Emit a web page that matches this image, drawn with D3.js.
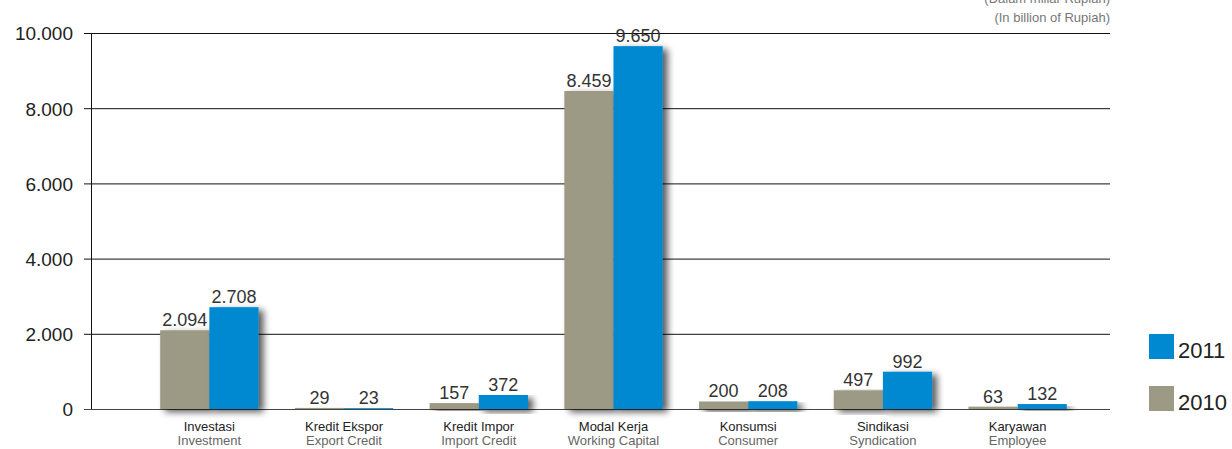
<!DOCTYPE html>
<html>
<head>
<meta charset="utf-8">
<script src="https://cdn.jsdelivr.net/npm/d3@7/dist/d3.min.js"></script>
<style>
  html, body { margin: 0; padding: 0; background: #fff; }
  svg { display: block; font-family: "Liberation Sans", Arial, sans-serif; }
</style>
</head>
<body>
<svg id="chart" width="1232" height="449"></svg>
<script>
// Credit by purpose, in billions of Rupiah
const categoriesId = ["Investasi", "Kredit Ekspor", "Kredit Impor", "Modal Kerja", "Konsumsi", "Sindikasi", "Karyawan"];
const categoriesEn = ["Investment", "Export Credit", "Import Credit", "Working Capital", "Consumer", "Syndication", "Employee"];
const values2010 = [2094, 29, 157, 8459, 200, 497, 63];
const values2011 = [2708, 23, 372, 9650, 208, 992, 132];
const years = ["2010", "2011"];
const yTicks = [0, 2000, 4000, 6000, 8000, 10000];
const colors = { "2010": "#9c9a85", "2011": "#0088d1" };

const svg = d3.select("#chart");
const fmt = v => d3.format(",")(v).replace(/,/g, ".");

const x = d3.scaleBand().domain(categoriesId).range([142, 1085]).paddingInner(0.27).paddingOuter(0.135);
const xs = d3.scaleBand().domain(years).range([0, x.bandwidth()]);
const y = d3.scaleLinear().domain([0, 10000]).range([409, 33]);

// soft shadow behind bars
const defs = svg.append("defs");
const f = defs.append("filter").attr("id", "shadow").attr("x", "-20%").attr("y", "-20%").attr("width", "150%").attr("height", "150%");
f.append("feGaussianBlur").attr("in", "SourceAlpha").attr("stdDeviation", 3.5).attr("result", "b");
f.append("feOffset").attr("in", "b").attr("dx", 5).attr("dy", 3).attr("result", "o");
f.append("feComponentTransfer").attr("in", "o").attr("result", "s")
  .append("feFuncA").attr("type", "linear").attr("slope", 0.65);
const m = f.append("feMerge");
m.append("feMergeNode").attr("in", "s");
m.append("feMergeNode").attr("in", "SourceGraphic");

// y axis with full-width grid lines
const yAxis = d3.axisLeft(y).tickValues(yTicks).tickSize(-(1110 - 91)).tickPadding(10).tickFormat(fmt);
const ga = svg.append("g").attr("transform", "translate(91,0)").call(yAxis);
ga.select(".domain").remove();
ga.selectAll(".tick line").attr("stroke", "#111").attr("stroke-width", 1).attr("x1", -7);
ga.selectAll(".tick line").filter(d => d === 0).attr("stroke", "#444");
ga.selectAll(".tick text").attr("font-size", 19).attr("fill", "#222").attr("x", -18).attr("dy", "0.36em");
svg.append("line").attr("x1", 91.5).attr("x2", 91.5).attr("y1", y(10000)).attr("y2", y(0)).attr("stroke", "#111");

// bars
const rows = categoriesId.map((c, i) => ({ c, i, v: { "2010": values2010[i], "2011": values2011[i] } }));
const groups = svg.append("g").selectAll("g").data(rows).join("g")
  .attr("transform", d => `translate(${x(d.c)},0)`);
groups.each(function(d) {
  const g = d3.select(this);
  years.forEach(yr => {
    g.append("rect")
      .attr("x", xs(yr)).attr("width", xs.bandwidth())
      .attr("y", y(d.v[yr])).attr("height", y(0) - y(d.v[yr]))
      .attr("fill", colors[yr]).attr("filter", "url(#shadow)");
  });
});
groups.each(function(d) {
  const g = d3.select(this);
  years.forEach(yr => {
    g.append("text")
      .attr("x", xs(yr) + xs.bandwidth() / 2).attr("y", y(d.v[yr]) - 4)
      .attr("text-anchor", "middle").attr("font-size", 18).attr("fill", "#333")
      .text(fmt(d.v[yr]));
  });
  g.append("text").attr("x", x.bandwidth() / 2).attr("y", 431)
    .attr("text-anchor", "middle").attr("font-size", 13).attr("fill", "#222")
    .text(d.c);
  g.append("text").attr("x", x.bandwidth() / 2).attr("y", 445)
    .attr("text-anchor", "middle").attr("font-size", 13).attr("fill", "#666")
    .text(categoriesEn[d.i]);
});

// unit note
svg.append("text").attr("x", 1110).attr("y", 3).attr("text-anchor", "end")
  .attr("font-size", 13).attr("fill", "#777").text("(Dalam miliar Rupiah)");
svg.append("text").attr("x", 1110).attr("y", 22).attr("text-anchor", "end")
  .attr("font-size", 13).attr("fill", "#777").text("(In billion of Rupiah)");

// legend
const legend = svg.append("g").selectAll("g").data(["2011", "2010"]).join("g")
  .attr("transform", (d, i) => `translate(1149,${334 + i * 52})`);
legend.append("rect").attr("width", 25).attr("height", 25).attr("fill", d => colors[d]);
legend.append("text").attr("x", 29).attr("y", 24).attr("font-size", 22).attr("fill", "#222").text(d => d);
</script>
</body>
</html>
